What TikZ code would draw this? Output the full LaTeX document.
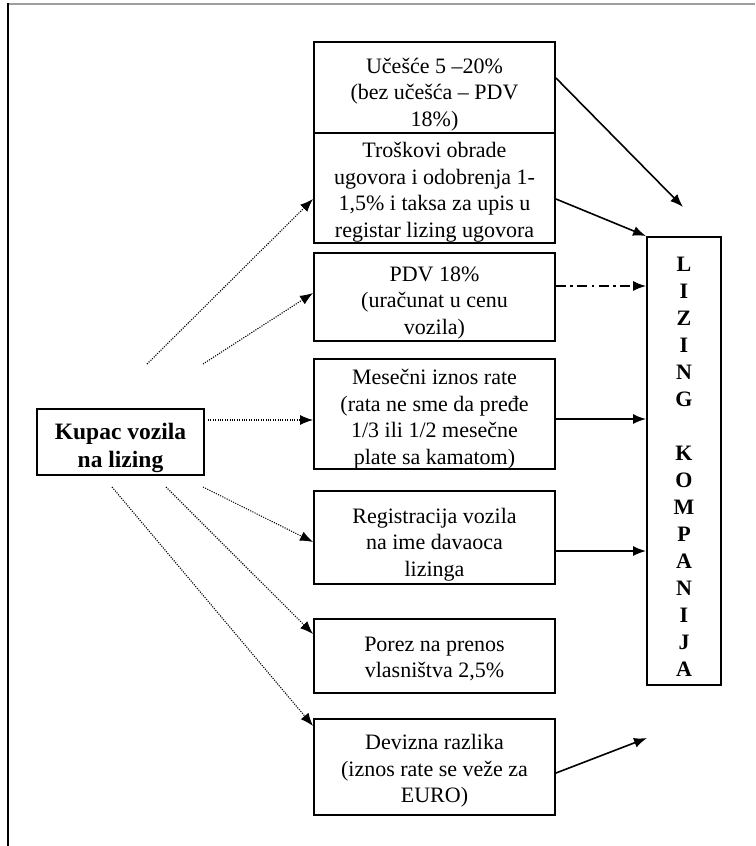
\documentclass[tikz,border=0pt]{standalone}
\usepackage{fontspec}
\setmainfont{Liberation Serif}
\usetikzlibrary{arrows.meta}
\begin{document}
\begin{tikzpicture}[x=1pt,y=-1pt,
  box/.style={draw,line width=1.9pt,minimum width=241pt,inner sep=0pt},
  boxtext/.style={inner sep=0pt,align=center,font=\fontsize{22}{26.5}\selectfont},
  solidarr/.style={line width=1.6pt,-{Latex[length=13pt,width=10pt]}},
  dotarr/.style={line width=1.1pt,dash pattern=on 1.1pt off 1.3pt,-{Latex[length=13pt,width=10pt]}},
  dasharr/.style={line width=1.6pt,dash pattern=on 10pt off 4.5pt on 2.5pt off 4.5pt,-{Latex[length=13pt,width=10pt]}}
]
\useasboundingbox (0,0) rectangle (755,846);
\fill[white] (0,0) rectangle (755,846);
\draw[gray!75,line width=2pt] (8,3.5) -- (755,3.5);
\draw[line width=1.6pt] (8,3) -- (8,846);

\node[box,minimum height=91pt]  (b1) at (434.5,87.5) {};
\node[box,minimum height=110pt] (b2) at (434.5,188) {};
\node[box,minimum height=88pt]  (b3) at (434.5,297) {};
\node[box,minimum height=110pt] (b4) at (434.5,414) {};
\node[box,minimum height=93pt]  (b5) at (434.5,537.5) {};
\node[box,minimum height=74pt]  (b6) at (434.5,656) {};
\node[box,minimum height=96pt]  (b7) at (434.5,767) {};

\node[boxtext] (b1t) at ([yshift=-7pt]b1.center) {Učešće 5 –20\%\\(bez učešća – PDV\\18\%)};
\node[boxtext] (b2t) at ([yshift=-4pt]b2.center) {Troškovi obrade\\ugovora i odobrenja 1-\\1,5\% i taksa za upis u\\registar lizing ugovora};
\node[boxtext] (b3t) at ([yshift=-6pt]b3.center) {PDV 18\%\\(uračunat u cenu\\vozila)};
\node[boxtext] (b4t) at ([yshift=-5pt]b4.center) {Mesečni iznos rate\\(rata ne sme da pređe\\1/3 ili 1/2 mesečne\\plate sa kamatom)};
\node[boxtext] (b5t) at ([yshift=-7pt]b5.center) {Registracija vozila\\na ime davaoca\\lizinga};
\node[boxtext] (b6t) at ([yshift=-3pt]b6.center) {Porez na prenos\\vlasništva 2,5\%};
\node[boxtext] (b7t) at ([yshift=-4pt]b7.center) {Devizna razlika\\(iznos rate se veže za\\EURO)};

\node[draw,line width=1.9pt,minimum width=167pt,minimum height=66pt,inner sep=0pt] (k) at (120.5,442) {};
\node[inner sep=0pt,align=center,font=\fontsize{23.5}{28}\selectfont\bfseries] (kt) at ([yshift=-6pt]k.center) {Kupac vozila\\na lizing};

\node[draw,line width=1.9pt,minimum width=74pt,minimum height=448pt,inner sep=0pt] (lk) at (684,461) {};
\node[align=center,inner sep=0pt,font=\fontsize{22}{27}\selectfont\bfseries] (lkt) at (684,467)
  {L\\I\\Z\\I\\N\\G\\[27pt]K\\O\\M\\P\\A\\N\\I\\J\\A};

% right side arrows
\coordinate (t1) at (683,207);
\coordinate (t7) at (647,738);
\coordinate (p3) at ([yshift=11pt]b3.east);
\coordinate (p4) at ([yshift=-5pt]b4.east);
\coordinate (p5) at ([yshift=-13.5pt]b5.east);
\draw[solidarr] ([yshift=9.5pt]b1.east) -- (t1);
\draw[solidarr] ([yshift=-11pt]b2.east) -- (lk.north west);
\draw[dasharr] (p3) -- (p3 -| lk.west);
\draw[solidarr] (p4) -- (p4 -| lk.west);
\draw[solidarr] (p5) -- (p5 -| lk.west);
\draw[solidarr] ([yshift=-6pt]b7.east) -- (t7);

% dotted arrows from Kupac
\coordinate (s2) at (147,364);
\coordinate (s3) at (203,364);
\coordinate (s5) at (203,487);
\coordinate (s6) at (166,487);
\coordinate (s7) at (112,487);
\coordinate (s4) at ([xshift=3pt,yshift=22pt]k.east);
\draw[dotarr] (s2) -- ([yshift=-11pt]b2.west);
\draw[dotarr] (s3) -- ([yshift=4pt]b3.west);
\draw[dotarr] (s4) -- (s4 -| b4.west);
\draw[dotarr] (s5) -- ([yshift=-4.5pt]b5.west);
\draw[dotarr] (s6) -- ([yshift=22pt]b6.west);
\draw[dotarr] (s7) -- ([yshift=41pt]b7.west);
\end{tikzpicture}
\end{document}
